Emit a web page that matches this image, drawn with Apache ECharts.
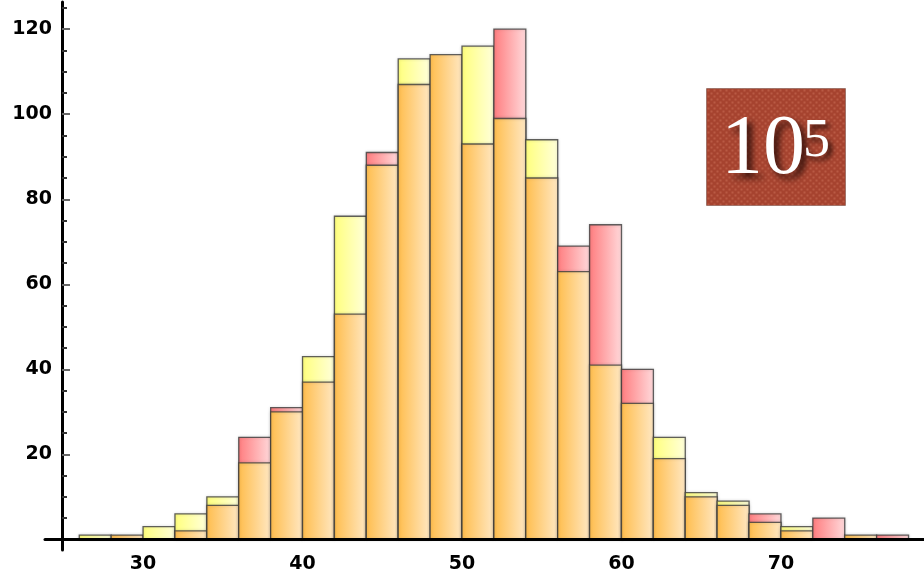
<!DOCTYPE html>
<html>
<head>
<meta charset="utf-8">
<script src="https://cdn.jsdelivr.net/npm/echarts@6/dist/echarts.min.js"></script>
<style>
  html, body { margin: 0; padding: 0; background: #ffffff; }
  #chart { width: 924px; height: 574px; }
</style>
</head>
<body>
<div id="chart"></div>
<script>
// Histogram bins (lower edges) and bin width
const binStarts = [26, 28, 30, 32, 34, 36, 38, 40, 42, 44, 46, 48, 50, 52, 54, 56, 58, 60, 62, 64, 66, 68, 70, 72, 74, 76];
const binWidth = 2;

// Counts per bin for the two samples
const yellowCounts = [1, 1, 3, 6, 10, 18, 30, 43, 76, 88, 113, 114, 116, 99, 94, 63, 41, 32, 24, 11, 9, 4, 3, 0, 1, 0];
const redCounts    = [0, 1, 0, 2, 8, 24, 31, 37, 53, 91, 107, 114, 93, 120, 85, 69, 74, 40, 19, 10, 8, 6, 2, 5, 1, 1];

// Axis tick values
const xTickLabels = [30, 40, 50, 60, 70];
const yTickLabels = [20, 40, 60, 80, 100, 120];
const yMinorTicks = [5, 10, 15, 25, 30, 35, 45, 50, 55, 65, 70, 75, 85, 90, 95, 105, 110, 115, 125];

// Badge text
const badgeBase = '10';
const badgeExponent = '5';

const chart = echarts.init(document.getElementById('chart'), null, { renderer: 'canvas' });

function hGradient(c0, c1) {
  return new echarts.graphic.LinearGradient(0, 0, 1, 0, [
    { offset: 0, color: c0 },
    { offset: 1, color: c1 }
  ]);
}
const yellowFill = hGradient('#ffff7c', '#ffffdc');
const redFill    = hGradient('#ff7c7e', '#ffdadc');
const orangeFill = hGradient('#ffbd4c', '#ffe8c4');

// Small repeating texture for the badge
const tex = document.createElement('canvas');
tex.width = 6; tex.height = 6;
const tc = tex.getContext('2d');
tc.fillStyle = '#a6432f';
tc.fillRect(0, 0, 6, 6);
tc.fillStyle = 'rgba(200,110,85,0.55)';
tc.fillRect(1, 1, 2, 2);
tc.fillRect(4, 4, 2, 2);

const histData = binStarts.map((s, i) => [s, s + binWidth, redCounts[i], yellowCounts[i]]);

const labelFont = {
  fontFamily: 'DejaVu Sans',
  fontWeight: 'bold',
  fontSize: 19,
  color: '#000'
};

const textShadow = (blur, off) => ({
  textShadowColor: 'rgba(40,10,5,0.9)',
  textShadowBlur: blur,
  textShadowOffsetX: off,
  textShadowOffsetY: off,
  shadowColor: 'rgba(40,10,5,0.9)',
  shadowBlur: blur,
  shadowOffsetX: off,
  shadowOffsetY: off
});

const option = {
  animation: false,
  backgroundColor: '#ffffff',
  grid: { left: 45, right: 0, top: 2, bottom: 24, containLabel: false, outerBoundsMode: 'none' },
  xAxis: {
    type: 'value',
    min: 23.85,
    max: 78.97,
    z: 10,
    axisLine: { show: true, onZero: true, lineStyle: { color: '#000', width: 3 } },
    axisTick: { show: false },
    splitLine: { show: false },
    axisLabel: Object.assign({ customValues: xTickLabels, margin: 5 }, labelFont)
  },
  yAxis: [
    {
      type: 'value',
      min: -2.5,
      max: 126.4,
      offset: -17,
      z: 10,
      axisLine: { show: true, onZero: false, lineStyle: { color: '#000', width: 3 } },
      axisTick: { show: true, inside: true, length: 8, customValues: yTickLabels, lineStyle: { color: '#666', width: 2 } },
      splitLine: { show: false },
      axisLabel: Object.assign({ customValues: yTickLabels, margin: 10 }, labelFont)
    },
    {
      type: 'value',
      min: -2.5,
      max: 126.4,
      offset: -17,
      position: 'left',
      z: 10,
      axisLine: { show: false, onZero: false },
      axisTick: { show: true, inside: true, length: 5, customValues: yMinorTicks, lineStyle: { color: '#333', width: 2 } },
      splitLine: { show: false },
      axisLabel: { show: false }
    }
  ],
  series: [
    {
      type: 'custom',
      data: histData,
      encode: { x: [0, 1], y: [2, 3] },
      renderItem: function (params, api) {
        const x0 = api.value(0), x1 = api.value(1);
        const r = api.value(2), y = api.value(3);
        const top = Math.max(r, y), overlap = Math.min(r, y);
        const rect = (v, fill) => {
          const p0 = api.coord([x0, 0]);
          const p1 = api.coord([x1, v]);
          return {
            type: 'rect',
            shape: { x: p0[0], y: p1[1], width: p1[0] - p0[0], height: p0[1] - p1[1] },
            style: {
              fill: fill,
              stroke: 'rgba(60,60,60,0.8)',
              lineWidth: 1.3,
              shadowBlur: 3,
              shadowColor: 'rgba(0,0,0,0.18)'
            }
          };
        };
        const children = [];
        if (top > overlap) children.push(rect(top, r > y ? redFill : yellowFill));
        if (overlap > 0) children.push(rect(overlap, orangeFill));
        return { type: 'group', children: children };
      }
    }
  ],
  graphic: [
    {
      type: 'rect',
      left: 706,
      top: 88,
      z: 20,
      shape: { width: 139, height: 117 },
      style: { fill: { image: tex, repeat: 'repeat' }, stroke: 'rgba(70,30,20,0.35)', lineWidth: 1 }
    },
    {
      type: 'text',
      z: 21,
      x: 721,
      y: 151,
      style: Object.assign({
        text: badgeBase,
        fill: '#ffffff',
        font: '84px "Liberation Serif"',
        align: 'left',
        verticalAlign: 'middle',
        textAlign: 'left',
        textVerticalAlign: 'middle'
      }, textShadow(6, 5))
    },
    {
      type: 'text',
      z: 21,
      x: 803,
      y: 142,
      style: Object.assign({
        text: badgeExponent,
        fill: '#ffffff',
        font: '54px "Liberation Serif"',
        align: 'left',
        verticalAlign: 'middle',
        textAlign: 'left',
        textVerticalAlign: 'middle'
      }, textShadow(5, 4))
    }
  ]
};

chart.setOption(option);
</script>
</body>
</html>
